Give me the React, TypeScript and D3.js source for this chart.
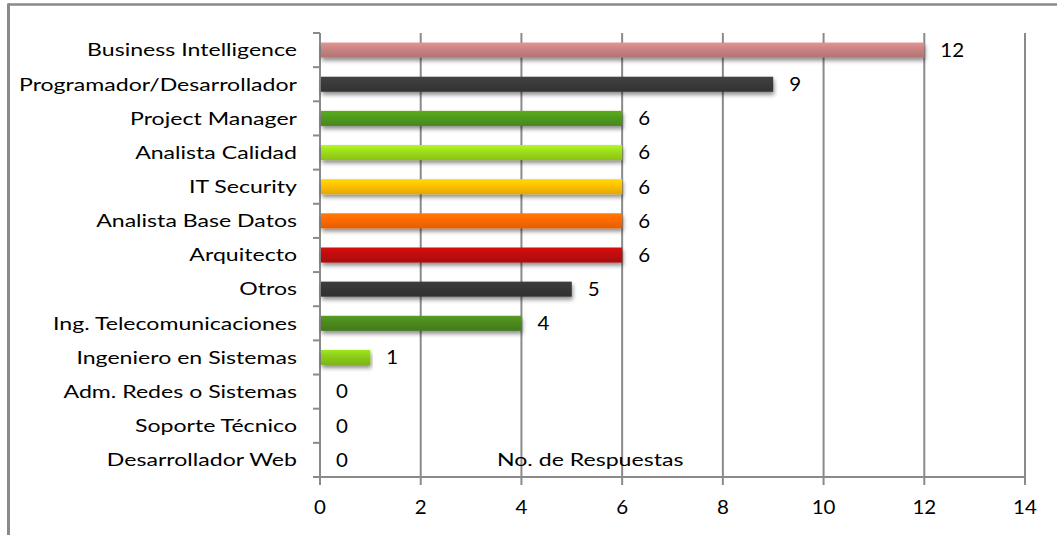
import React from "react";
import * as d3 from "d3";

const categories = [
  "Business Intelligence",
  "Programador/Desarrollador",
  "Project Manager",
  "Analista Calidad",
  "IT Security",
  "Analista Base Datos",
  "Arquitecto",
  "Otros",
  "Ing. Telecomunicaciones",
  "Ingeniero en Sistemas",
  "Adm. Redes o Sistemas",
  "Soporte Técnico",
  "Desarrollador Web",
];
const values = [12, 9, 6, 6, 6, 6, 6, 5, 4, 1, 0, 0, 0];
const barColors = [
  "#c98282", "#3a3a3a", "#4f9a1c", "#9ddc1a", "#ffc000", "#ff6a00", "#c00c0c",
  "#363636", "#4b8a1e", "#8ccc1a", "#888888", "#888888", "#888888",
];
const xTicks = [0, 2, 4, 6, 8, 10, 12, 14];
const axisTitle = "No. de Respuestas";

const W = 1057;
const H = 535;
const FONT = "Lato, 'Open Sans', sans-serif";
const GRID = "#8a8a8a";
const STRETCH = 1.32;

export default function App() {
  const x = d3.scaleLinear().domain([0, 14]).range([320, 1025]);
  const y = d3
    .scaleBand<string>()
    .domain(categories)
    .range([33, 477])
    .paddingInner(0.56)
    .paddingOuter(0.28);
  const step = y.step();
  const bw = y.bandwidth();
  const boundaries = d3.range(categories.length + 1).map((i) => 33 + i * step);

  return (
    <svg
      width={W}
      height={H}
      style={{ position: "absolute", left: 0, top: 0, background: "#fff" }}
      fontFamily={FONT}
    >
      <defs>
        <filter id="shadow" x="-5%" y="-50%" width="110%" height="250%">
          <feDropShadow dx="1" dy="3" stdDeviation="2" floodColor="#000" floodOpacity="0.45" />
        </filter>
        {barColors.map((c, i) => {
          const base = d3.color(c)!;
          return (
            <linearGradient key={i} id={`g${i}`} x1="0" y1="0" x2="0" y2="1">
              <stop offset="0%" stopColor={base.brighter(0.35).formatHex()} />
              <stop offset="45%" stopColor={c} />
              <stop offset="100%" stopColor={base.darker(0.35).formatHex()} />
            </linearGradient>
          );
        })}
      </defs>

      {/* outer frame */}
      <line x1={8} x2={W} y1={4.5} y2={4.5} stroke={GRID} strokeWidth={2.5} />
      <line x1={8.5} x2={8.5} y1={3.5} y2={H} stroke={GRID} strokeWidth={3} />

      {/* gridlines */}
      {xTicks.slice(1).map((t) => (
        <line key={t} x1={x(t)} x2={x(t)} y1={33} y2={477} stroke={GRID} strokeWidth={2} />
      ))}

      {/* axes */}
      <line x1={x(0)} x2={x(0)} y1={33} y2={477} stroke={GRID} strokeWidth={2} />
      <line x1={x(0)} x2={x(14)} y1={477} y2={477} stroke={GRID} strokeWidth={2} />
      {boundaries.map((b, i) => (
        <line key={i} x1={313} x2={x(0)} y1={b} y2={b} stroke={GRID} strokeWidth={2} />
      ))}
      {xTicks.map((t) => (
        <line key={t} x1={x(t)} x2={x(t)} y1={477} y2={485} stroke={GRID} strokeWidth={2} />
      ))}

      {/* bars */}
      {categories.map((c, i) =>
        values[i] > 0 ? (
          <rect
            key={c}
            x={x(0) + 1}
            y={y(c)!}
            width={x(values[i]) - x(0) - 1}
            height={bw}
            fill={`url(#g${i})`}
            filter="url(#shadow)"
          />
        ) : null
      )}

      {/* value labels */}
      {categories.map((c, i) => (
        <text
          key={c}
          transform={`translate(${x(values[i]) + 16},${y(c)! + bw / 2}) scale(1.08,1)`}
          dy="0.36em"
          fontSize={19}
          fill="#000"
        >
          {values[i]}
        </text>
      ))}

      {/* category labels */}
      {categories.map((c) => (
        <text
          key={c}
          transform={`translate(297,${y(c)! + bw / 2}) scale(${STRETCH},1)`}
          dy="0.36em"
          textAnchor="end"
          fontSize={17.5}
          fill="#000"
        >
          {c}
        </text>
      ))}

      {/* tick labels */}
      {xTicks.map((t) => (
        <text
          key={t}
          transform={`translate(${x(t)},507) scale(1.08,1)`}
          dy="0.36em"
          textAnchor="middle"
          fontSize={19}
          fill="#000"
        >
          {t}
        </text>
      ))}

      <text
        transform={`translate(497,${y(categories[categories.length - 1])! + bw / 2}) scale(${STRETCH},1)`}
        dy="0.36em"
        fontSize={17.5}
        fill="#000"
      >
        {axisTitle}
      </text>
    </svg>
  );
}
